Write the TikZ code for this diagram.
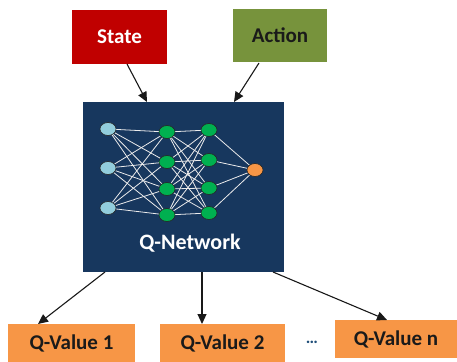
\documentclass[tikz,border=0pt]{standalone}
\usepackage{fontspec}
\setmainfont{Carlito}
\usetikzlibrary{arrows.meta,shapes.geometric}
\definecolor{statered}{HTML}{C00000}
\definecolor{actiongreen}{HTML}{77933C}
\definecolor{navy}{HTML}{17375E}
\definecolor{qorange}{HTML}{F79646}
\definecolor{inblue}{HTML}{92CDDC}
\definecolor{hidgreen}{HTML}{00B050}
\definecolor{txtdark}{HTML}{1A1A1A}
\definecolor{dotblue}{HTML}{1F4E79}
\tikzset{
  box/.style={draw=none, inner sep=0pt, font=\bfseries\fontsize{21}{23}\selectfont},
  conn/.style={-{Triangle[length=10pt,width=9pt]}, line width=1.1pt, draw=black!90},
  neuron/.style={ellipse, draw=black!85, line width=0.6pt, minimum width=16pt, minimum height=13pt, inner sep=0pt},
  wire/.style={draw=white!85!gray, line width=0.8pt},
}
\begin{document}
\begin{tikzpicture}[x=1pt,y=-1pt]
\useasboundingbox (0,0) rectangle (457,361);
% top boxes
\node[box, fill=statered, text=white, minimum width=95pt, minimum height=54pt] (state) at (119.5,37) {State};
\node[box, fill=actiongreen, text=txtdark, minimum width=94pt, minimum height=53pt] (action) at (280,35.5) {Action};
% network box
\node[fill=navy, minimum width=201pt, minimum height=170pt, inner sep=0pt] (net) at (183.5,187) {};
\node[font=\bfseries\fontsize{22}{24}\selectfont, text=white] (qlabel) at (190,243) {Q-Network};
% neuron positions
\foreach \n/\x/\y in {i1/108/129,i2/108/168,i3/108/208,a1/167/132,a2/167/162,a3/167/189,a4/167/215,b1/209/130,b2/209/160,b3/209/188,b4/209/213,o1/255/170}{\coordinate (\n) at (\x,\y);}
% wires
\foreach \s in {i1,i2,i3}{\foreach \t in {a1,a2,a3,a4}{\draw[wire] (\s) -- (\t);}}
\foreach \s in {a1,a2,a3,a4}{\foreach \t in {b1,b2,b3,b4}{\draw[wire] (\s) -- (\t);}}
\foreach \s in {b1,b2,b3,b4}{\draw[wire] (\s) -- (o1);}
% neurons
\foreach \n in {i1,i2,i3}{\node[neuron, fill=inblue] (n\n) at (\n) {};}
\foreach \n in {a1,a2,a3,a4,b1,b2,b3,b4}{\node[neuron, fill=hidgreen] (n\n) at (\n) {};}
\node[neuron, fill=qorange] (no1) at (o1) {};
% bottom boxes
\node[box, fill=qorange, text=txtdark, minimum width=127pt, minimum height=38pt] (q1) at (71.5,343) {Q-Value 1};
\node[box, fill=qorange, text=txtdark, minimum width=125pt, minimum height=38pt] (q2) at (222.5,343) {Q-Value 2};
\node[box, fill=qorange, text=txtdark, minimum width=122pt, minimum height=38pt] (qn) at (396,339) {Q-Value n};
\node[font=\bfseries\fontsize{17}{19}\selectfont, text=dotblue] (dots) at (312,342) {\dots};
% connectors
\coordinate (sA) at (127,64);
\coordinate (sB) at (147,102);
\coordinate (aA) at (259,63);
\coordinate (aB) at (234,102);
\draw[conn] (sA) -- (sB);
\draw[conn] (aA) -- (aB);
\coordinate (n1) at (105,272);
\coordinate (n2) at (202,272);
\coordinate (n3) at (273,272);
\coordinate (e1) at (38,324);
\coordinate (e2) at (202,324);
\coordinate (e3) at (387,320);
\draw[conn] (n1) -- (e1);
\draw[conn] (n2) -- (e2);
\draw[conn] (n3) -- (e3);
\end{tikzpicture}
\end{document}
